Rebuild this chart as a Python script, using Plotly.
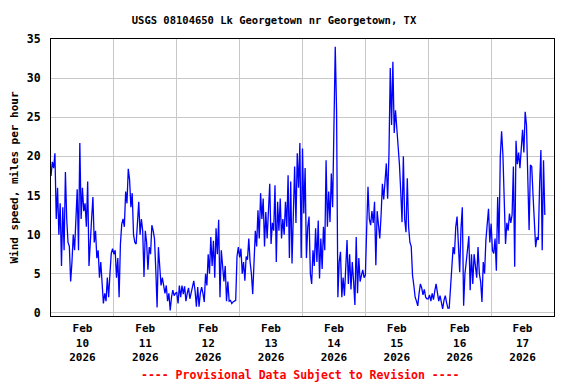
import plotly.graph_objects as go
import pandas as pd

# Wind speed, miles per hour, 30-minute readings starting Feb 10 2026 00:00
feb10 = [17.5, 19.3, 18.5, 20.4, 12, 16, 10, 14, 6, 13.5, 8, 18,
         12, 9, 8.5, 4, 6.5, 10, 8, 11.5, 15.8, 8, 21.7, 12,
         16, 13, 14, 11, 16.8, 6, 10, 12, 14.8, 9, 10.5, 7,
         8, 4.5, 6.5, 3.5, 1.2, 2.5, 1.5, 4.5, 2, 5, 7.6, 8.2]
feb11 = [7.5, 8, 4.5, 7, 2, 8.8, 11.3, 12, 11, 15.5, 14, 18.4,
         17, 13.5, 15.3, 10, 9, 8.8, 12.3, 14.2, 10, 12, 10.5, 4.6,
         10.5, 9, 5.5, 8.4, 7.5, 11.2, 10.5, 9.5, 5.5, 0.7, 8.4, 5.5,
         3.5, 4.5, 3.3, 2.5, 3.5, 1.5, 2.5, 0.3, 2, 2.9, 2.2, 2.5]
feb12 = [2.6, 1.2, 3.5, 2, 3.5, 2.4, 3.4, 1.5, 2.5, 3.2, 1.8, 2.5,
         3.2, 4.1, 2.8, 0.8, 3.3, 0.8, 2.5, 3.3, 2.5, 1.4, 5, 3.5,
         7.5, 5, 9.7, 6, 9.2, 4.5, 10.8, 7.5, 11.9, 2, 8, 6.3,
         4, 6, 1.5, 4, 1.5, 1.6, 1.2, 1.4, 1.5, 1.6, 7.2, 8.4]
feb13 = [7.1, 8.2, 5, 6.5, 4.1, 7.2, 6.8, 9.5, 6.5, 5, 2.4, 6.5,
         10.5, 8.5, 13.1, 9.5, 15.3, 12, 14.6, 8.5, 12.9, 9.5, 13.3, 16.5,
         8.8, 11.5, 10.5, 16.3, 6.5, 14.2, 10.5, 14.6, 9.5, 12, 10, 14.2,
         11, 17.6, 7, 16.8, 6.3, 14.5, 18.7, 11.5, 20.4, 16, 21.7, 7]
feb14 = [21, 12.7, 18.5, 7, 11, 12.3, 5, 3.7, 8, 6, 10.8, 6.5,
         11.8, 4.4, 9.5, 5.6, 11, 8, 19.5, 11, 15.5, 11.6, 17.8, 13.5,
         23.4, 34, 26, 2, 6.5, 7.8, 2, 4.5, 2.2, 5.5, 9.3, 3.7,
         7.5, 3, 6.5, 4, 1, 9.7, 2.5, 7, 4, 4.8, 5.5, 4.5]
feb15 = [4.8, 10.8, 16.1, 12, 11.2, 13, 11.5, 14.2, 6.1, 13, 11.5, 9.5,
         12.5, 16.5, 14.5, 16.5, 19.1, 14.6, 20.2, 31.3, 24, 32.1, 23, 25.9,
         23.6, 21.5, 19, 15.5, 11.6, 20, 12, 10.3, 17.2, 11, 9, 8.5,
         4.8, 3.5, 2, 1.5, 0.9, 2.5, 3.7, 3.2, 2.3, 3, 2, 1.8]
feb16 = [1.8, 2.3, 1.5, 2.5, 1.7, 2.8, 3.7, 2.6, 1.5, 2.2, 1.2, 0.5,
         1.6, 2.2, 1.3, 0.6, 0.6, 3.7, 5.6, 8.4, 7.5, 11, 12.3, 9,
         5.2, 10.8, 13.5, 0.9, 5, 6.5, 8.8, 9.8, 2.9, 7.5, 3.7, 7.5,
         6, 4.5, 8.4, 5, 4, 1.4, 6.5, 5, 9.3, 11.6, 13.3, 9]
feb17 = [11.4, 8, 7.6, 9.5, 5.4, 14.8, 8.8, 20, 23.2, 20.2, 15.7, 8.8,
         11.5, 10.5, 12.7, 11.5, 12.5, 18.7, 5.9, 22, 19, 20.5, 18.5, 21,
         23.4, 20.5, 25.7, 24, 17.8, 10.6, 18.9, 18.7, 15, 11.4, 8.4, 9.7,
         9.3, 16.3, 20.8, 8, 19.5, 12.5]

tick_dates = ["2026-02-10 12:00", "2026-02-11 12:00", "2026-02-12 12:00",
              "2026-02-13 12:00", "2026-02-14 12:00", "2026-02-15 12:00",
              "2026-02-16 12:00", "2026-02-17 12:00"]
tick_labels = ["Feb<br>10<br>2026", "Feb<br>11<br>2026", "Feb<br>12<br>2026",
               "Feb<br>13<br>2026", "Feb<br>14<br>2026", "Feb<br>15<br>2026",
               "Feb<br>16<br>2026", "Feb<br>17<br>2026"]

values = feb10 + feb11 + feb12 + feb13 + feb14 + feb15 + feb16 + feb17
times = pd.date_range("2026-02-10 00:00", periods=len(values), freq="30min")

FONT = "DejaVu Sans Mono"
GRID = "#C8C8C8"

# The page body has an 8px margin, so the figure is 8px smaller and offset.
W, H = 568, 376

fig = go.Figure(go.Scatter(x=times, y=values, mode="lines",
                           line=dict(color="#0000FF", width=1.3),
                           hoverinfo="skip", showlegend=False))

fig.update_layout(
    width=W, height=H,
    margin=dict(l=43, r=22, t=31, b=68, autoexpand=False),
    paper_bgcolor="white", plot_bgcolor="white",
    font=dict(family=FONT, size=11, color="black", weight="bold"),
    title=dict(text="USGS 08104650 Lk Georgetown nr Georgetown, TX",
               x=266 / W, xref="container", xanchor="center",
               y=1 - 12 / H, yref="container", yanchor="middle",
               font=dict(family=FONT, size=10.5, color="black", weight="bold")),
    xaxis=dict(range=["2026-02-10 00:00", "2026-02-18 00:00"],
               tickmode="array", tickvals=tick_dates, ticktext=tick_labels,
               showgrid=False, ticks="", zeroline=False, automargin=False,
               ticklabelstandoff=2,
               showline=True, mirror=True, linecolor="black", linewidth=1,
               tickfont=dict(family=FONT, size=11, weight="bold"),
               minor=dict(tick0="2026-02-10", dtick=86400000, showgrid=True,
                          gridcolor=GRID, gridwidth=1, ticks="")),
    yaxis=dict(range=[-0.4, 35], tick0=0, dtick=5, automargin=False,
               showgrid=True, gridcolor=GRID, gridwidth=1, zeroline=False,
               showline=True, mirror=True, linecolor="black", linewidth=1,
               ticks="", ticklabelstandoff=7,
               tickfont=dict(family=FONT, size=11.5, weight="bold"),
               title=dict(text="Wind speed, miles per hour", standoff=10,
                          font=dict(family=FONT, size=11, weight="bold"))),
    annotations=[dict(text="---- Provisional Data Subject to Revision ----",
                      xref="paper", yref="paper", x=0.497, y=-59 / 277,
                      xanchor="center", yanchor="middle", showarrow=False,
                      font=dict(family=FONT, size=11.5, color="red", weight="bold"))],
)

fig.write_html("out.html")
